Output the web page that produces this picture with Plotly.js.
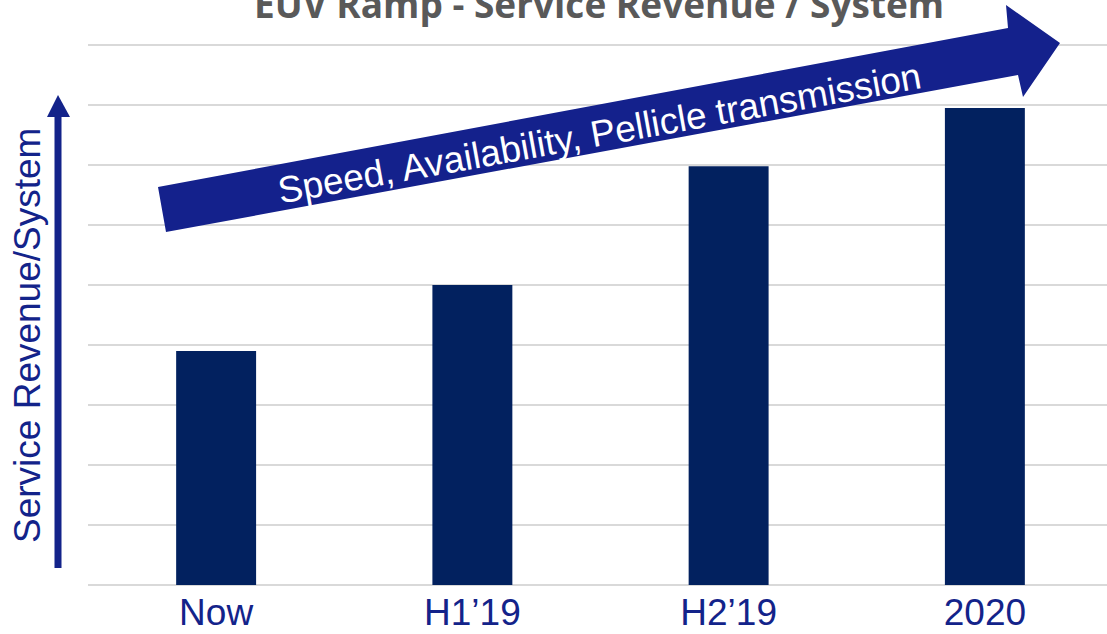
<!DOCTYPE html>
<html>
<head>
<meta charset="utf-8">
<script src="https://cdn.plot.ly/plotly-3.0.1.min.js"></script>
<style>
    html, body { margin: 0; padding: 0; overflow: hidden; background: #fff; }
    #chart { width: 1113px; height: 634px; }
</style>
</head>
<body>
<div id="chart"></div>
<script>
    // values (gridline = 1 unit)
    const periods = ["Now", "H1’19", "H2’19", "2020"];
    const revenuePerSystem = [3.9, 5, 6.98, 7.95];

    const BLUE = "#13238A";
    const BAR = "#02215F";

    // plot area in pixels: x 88..1113, y 42..585
    const L = 88, R = 1113, T = 42, B = 585;
    const px = (x) => (x - L) / (R - L);
    const py = (y) => (B - y) / (B - T);

    function pathOf(points) {
        return points.map((p, i) => `${i ? "L" : "M"} ${px(p[0])} ${py(p[1])}`).join(" ") + " Z";
    }

    const bigArrow = pathOf([[158, 187], [1008, 28], [1006, 5], [1060, 43], [1023, 97], [1018, 75], [166, 232]]);
    const axisHead = pathOf([[47, 117], [58, 95], [70, 117]]);

    Plotly.newPlot("chart", [{
        type: "bar",
        x: periods,
        y: revenuePerSystem,
        width: 0.312,
        marker: { color: BAR },
        hoverinfo: "skip"
    }], {
        width: 1113,
        height: 634,
        margin: { l: L, r: 0, t: T, b: 634 - B },
        paper_bgcolor: "#fff",
        plot_bgcolor: "#fff",
        showlegend: false,
        font: { family: "Liberation Sans, Arial, sans-serif" },
        xaxis: {
            type: "category",
            range: [-0.5, 3.5],
            showgrid: false,
            showline: false,
            ticks: "",
            tickfont: { size: 37, color: BLUE },
            ticklabelstandoff: 2,
            fixedrange: true
        },
        yaxis: {
            range: [0, 9.05],
            dtick: 1,
            showticklabels: false,
            gridcolor: "#D9D9D9",
            gridwidth: 2,
            zeroline: true,
            zerolinecolor: "#D9D9D9",
            zerolinewidth: 2,
            fixedrange: true
        },
        shapes: [
            { type: "path", xref: "paper", yref: "paper", path: bigArrow, fillcolor: "#14218C", line: { width: 0 }, layer: "above" },
            { type: "line", xref: "paper", yref: "paper", x0: px(58), x1: px(58), y0: py(568), y1: py(115), line: { color: BLUE, width: 7 } },
            { type: "path", xref: "paper", yref: "paper", path: axisHead, fillcolor: BLUE, line: { width: 0 } }
        ],
        annotations: [
            {
                xref: "paper", yref: "paper", x: px(599), y: py(3), showarrow: false,
                text: "<b>EUV Ramp - Service Revenue / System</b>",
                font: { family: "Open Sans, sans-serif", size: 37, color: "#595959" },
                xanchor: "center", yanchor: "middle"
            },
            {
                xref: "paper", yref: "paper", x: px(27), y: py(336), showarrow: false,
                text: "Service Revenue/System", textangle: -90,
                font: { size: 37, color: BLUE },
                xanchor: "center", yanchor: "middle"
            },
            {
                xref: "paper", yref: "paper", x: px(599), y: py(133), showarrow: false,
                text: "Speed, Availability, Pellicle transmission", textangle: -10.2,
                font: { size: 37, color: "#ffffff" },
                xanchor: "center", yanchor: "middle"
            }
        ]
    }, { displayModeBar: false, staticPlot: true });
</script>
</body>
</html>
